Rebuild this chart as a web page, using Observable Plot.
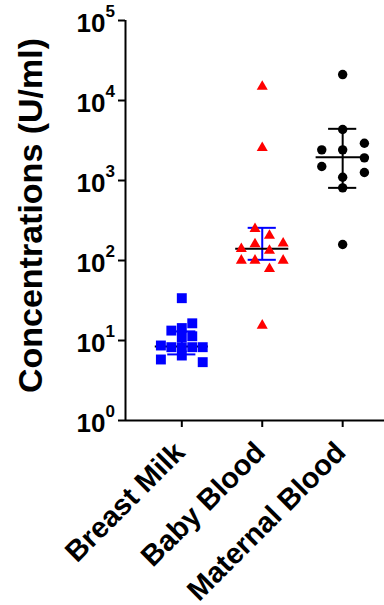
<!DOCTYPE html>
<html>
<head>
<meta charset="utf-8">
<script src="https://cdn.jsdelivr.net/npm/d3@7"></script>
<script src="https://cdn.jsdelivr.net/npm/@observablehq/plot@0.6"></script>
<style>
  html, body { margin: 0; padding: 0; background: white; }
</style>
</head>
<body>
<div id="chart"></div>
<script>
const categories = ["Breast Milk", "Baby Blood", "Maternal Blood"];

const milkValues  = [33.8, 16.4, 14.3, 13.3, 11.3, 11.0, 8.66, 8.25, 8.25, 8.25, 8.25, 6.49, 5.79, 5.36];
const milkOffsets = [0, 0.13, 0, -0.13, 0.13, 0, -0.26, -0.13, 0, 0.13, 0.26, 0, -0.26, 0.26];

const babyValues  = [14960, 2560, 249, 205, 164, 160, 140, 133, 100, 100, 100, 78.7, 15.4];
const babyOffsets = [0, 0, -0.09, 0.09, 0.26, -0.09, -0.26, 0.09, -0.26, -0.09, 0.26, 0.09, 0];

const maternalValues  = [21100, 4340, 2925, 2417, 2417, 1920, 1496, 1259, 1098, 809, 158.5];
const maternalOffsets = [0, 0, 0.27, -0.26, 0, 0.27, -0.26, 0.27, 0, 0, 0];

const medians = [8.4, 140, 1950];
const lowerBars = [6.7, 102, 809];
const upperBars = [13, 256, 4425];

const yTicks = [1, 10, 100, 1000, 10000, 100000];
const yExponents = ["0", "1", "2", "3", "4", "5"];

const font = "'Liberation Sans', Arial, Helvetica, sans-serif";

function pts(values, offsets, g) {
  return values.map((v, i) => ({g, value: v, pos: g + offsets[i]}));
}
const milk = pts(milkValues, milkOffsets, 0);
const baby = pts(babyValues, babyOffsets, 1);
const maternal = pts(maternalValues, maternalOffsets, 2);

const stats = categories.map((c, i) => ({i, median: medians[i], lo: lowerBars[i], hi: upperBars[i]}));
const barColors = ["#0000FF", "#0000FF", "#000000"];

const xDomain = [-0.7, 2.52];

const chart = Plot.plot({
  width: 384,
  height: 605,
  marginLeft: 125,
  marginRight: 0,
  marginTop: 20,
  marginBottom: 185,
  style: {fontFamily: font, background: "white", overflow: "visible", color: "black"},
  x: {type: "linear", domain: xDomain},
  y: {type: "log", domain: [1, 100000]},
  marks: [
    Plot.ruleX([xDomain[0]], {stroke: "black", strokeWidth: 2}),
    Plot.ruleY([1], {stroke: "black", strokeWidth: 2}),
    Plot.axisX([0, 1, 2], {tickSize: 7, tickFormat: () => "", strokeWidth: 2, stroke: "black", label: null}),
    Plot.axisY(yTicks, {tickSize: 7, tickFormat: () => "", strokeWidth: 2, stroke: "black", label: null}),
    // y tick labels
    Plot.text(yTicks, {y: d => d, frameAnchor: "left", text: () => "10", textAnchor: "end", dx: -20, dy: 3,
      fontSize: 26, fontWeight: "bold", fill: "black"}),
    Plot.text(yTicks, {y: d => d, frameAnchor: "left", text: (d, i) => yExponents[i], textAnchor: "start", dx: -20, dy: -9,
      fontSize: 17, fontWeight: "bold", fill: "black"}),
    // y title
    Plot.text(["Concentrations (U/ml)"], {frameAnchor: "left", text: d => d, rotate: -90, textAnchor: "middle",
      dx: -94, dy: -5, fontSize: 34, fontWeight: "bold", fill: "black"}),
    // x labels
    Plot.text(categories, {x: (d, i) => i, frameAnchor: "bottom", text: d => d, rotate: -45, textAnchor: "end",
      lineAnchor: "top", dx: -10, dy: 19, fontSize: 29, fontWeight: "bold", fill: "black"}),
    // error bars
    Plot.ruleX(stats, {x: "i", y1: "lo", y2: "hi", stroke: (d) => barColors[d.i], strokeWidth: 2}),
    Plot.ruleY(stats, {y: "lo", x1: d => d.i - 0.175, x2: d => d.i + 0.175, stroke: (d) => barColors[d.i], strokeWidth: 2}),
    Plot.ruleY(stats, {y: "hi", x1: d => d.i - 0.175, x2: d => d.i + 0.175, stroke: (d) => barColors[d.i], strokeWidth: 2}),
    Plot.ruleY(stats, {y: "median", x1: d => d.i - 0.33, x2: d => d.i + 0.33, stroke: "black", strokeWidth: 2}),
    // points
    Plot.dot(milk, {x: "pos", y: "value", symbol: "square", r: 5.6, fill: "#0000FF", stroke: "none"}),
    Plot.dot(baby, {x: "pos", y: "value", symbol: "triangle", r: 4.1, fill: "#FF0000", stroke: "none"}),
    Plot.dot(maternal, {x: "pos", y: "value", symbol: "circle", r: 4.7, fill: "#000000", stroke: "none"})
  ]
});
document.getElementById("chart").appendChild(chart);
</script>
</body>
</html>
